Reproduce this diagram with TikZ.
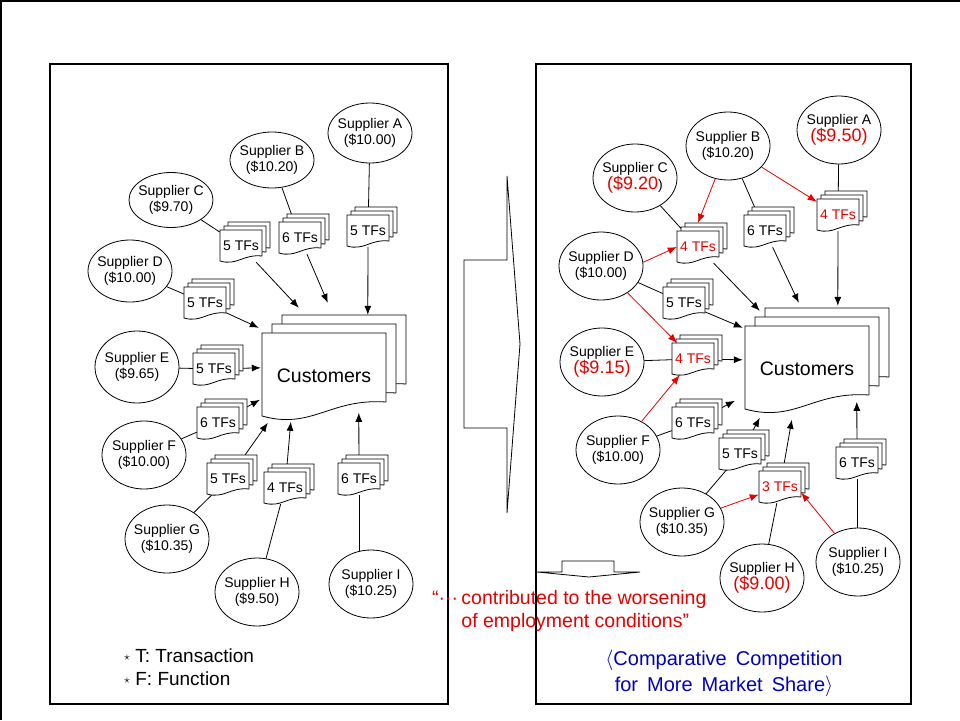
\documentclass[tikz,border=0pt]{standalone}
\usepackage{fontspec}
\setmainfont{Liberation Sans}
\usetikzlibrary{shapes.geometric,arrows.meta,backgrounds}

\definecolor{cutred}{RGB}{230,0,0}
\definecolor{capblue}{RGB}{0,0,190}

% stack of transaction forms: [text colour]{name}{x,y}{label}
\newcommand{\tfs}[4][black]{%
  \foreach \k in {2,1,0}
    \draw[doc,shift={(#3)},shift={(4*\k,-4*\k)}] (-21,-16) -- (21,-16) -- (21,10)
      .. controls (2,8) and (-4,20) .. (-21,15) -- cycle;
  \node[tfbox,text=#1] (#2) at (#3) {#4};
}
% stack of customer forms: {name}{x,y}
\newcommand{\custstack}[2]{%
  \foreach \k in {2,1,0}
    \draw[doc,shift={(#2)},shift={(10*\k,-9*\k)}] (-62,-43) -- (62,-43) -- (62,26)
      .. controls (6,22) and (-12,54) .. (-62,40) -- cycle;
  \node[custbox] (#1) at (#2) {Customers};
}
\newcommand{\bigprice}[1]{{\fontsize{18}{18}\selectfont #1}}
\newcommand{\smallstar}{\raisebox{2pt}{\fontsize{13}{13}\selectfont$\star$}}
\newcommand{\wide}{\hspace{0.45em}}

\begin{document}
\begin{tikzpicture}[x=1pt,y=-1pt,
  supp/.style={ellipse,draw,fill=white,line width=0.8pt,minimum width=84pt,minimum height=68pt,
    inner xsep=-4pt,inner ysep=0pt,align=center,font=\fontsize{14}{16}\selectfont},
  doc/.style={draw,fill=white,line width=0.8pt},
  tfbox/.style={minimum width=42pt,minimum height=32pt,inner sep=0pt,font=\fontsize{14}{16}\selectfont},
  custbox/.style={minimum width=124pt,minimum height=86pt,inner sep=0pt,font=\fontsize{19.5}{22}\selectfont},
  wire/.style={line width=0.8pt},
  feed/.style={wire,-{Latex[length=9pt,width=7pt]}},
  steal/.style={feed,draw=cutred},
  panel/.style={draw,line width=1.3pt},
  keytext/.style={inner sep=0pt,font=\fontsize{19}{22}\selectfont}]

\useasboundingbox (0,0) rectangle (960,720);
\draw[panel] (1,720) -- (1,1) -- (960,1);
\draw[panel] (50,64) rectangle (448,704);
\draw[panel] (536,64) rectangle (911,704);

% turn-over arrows
\draw[wire] (464,260) -- (507,260) -- (507,176) -- (520,344) -- (507,513) -- (507,428) -- (464,428) -- cycle;
\draw[wire] (562,561) -- (614,561) -- (614,572) -- (640,572) -- (589,577) -- (537,572) -- (562,572) -- cycle;

% before
\foreach \nm/\x/\y/\hgt/\ltr/\pr in {sA/370/133/60/A/10.00, sB/272/160/56/B/10.20, sC/171/200/55/C/9.70,
    sD/130/271/62/D/10.00, sE/137/367/72/E/9.65, sF/144/455/68/F/10.00,
    sG/167/539/68/G/10.35, sH/257/592/68/H/9.50, sI/371/584/68/I/10.25}
  \node[supp,minimum height=\hgt pt] (\nm) at (\x,\y) {Supplier \ltr\\(\$\pr)};

\foreach \nm/\x/\y/\num in {tA/368/231/5, tB/300/238/6, tC/241/246/5, tD/205/303/5, tE/214/369/5,
    tF/218/423/6, tG/228/479/5, tH/285/488/4, tI/359/479/6}
  \tfs{\nm}{\x,\y}{\num\ TFs};

\custstack{custL}{324,376}

% after
\foreach \nm/\x/\y/\ltr/\pr in {qA/839/130/A/\bigprice{\textcolor{cutred}{(\$9.50)}},
    qB/728/146/B/(\$10.20), qC/635/178/C/\bigprice{\textcolor{cutred}{(\$9.20}}),
    qD/601/266/D/(\$10.00), qE/602/362/E/\bigprice{\textcolor{cutred}{(\$9.15)}},
    qF/618/450/F/(\$10.00), qG/682/522/G/(\$10.35),
    qH/762/578/H/\bigprice{\textcolor{cutred}{(\$9.00)}}, qI/858/562/I/(\$10.25)}
  \node[supp] (\nm) at (\x,\y) {Supplier \ltr\\\pr};

\foreach \nm/\x/\y/\num/\col in {rA/838/215/4/cutred, rB/765/231/6/black, rC/698/247/4/cutred,
    rD/684/303/5/black, rE/693/359/4/cutred, rF/693/423/6/black, rG/740/454/5/black,
    rH/780/487/3/cutred, rI/857/463/6/black}
  \tfs[\col]{\nm}{\x,\y}{\num\ TFs};

\custstack{custR}{807,369}

\begin{scope}[on background layer]
  \foreach \src/\dst in {sA/tA,sB/tB,sC/tC,sD/tD,sE/tE,sF/tF,sG/tG,sH/tH}
    \draw[wire] (\src) -- (\dst);
  \draw[wire] (tI) -- (tI |- sI);
  \foreach \dst/\dx/\dy in {tA/106/-18, tB/66/-30, tC/37/-25, tD/-3/-5, tE/-1/35,
      tF/-2/67, tG/6/90, tH/29/89, tI/97/80}
    \draw[feed] (\dst) -- ([shift={(\dx,\dy)}]custL.north west);

  \foreach \src/\dst in {qA/rA,qB/rB,qC/rC,qD/rD,qE/rE,qF/rF,qG/rG,qH/rH}
    \draw[wire] (\src) -- (\dst);
  \draw[wire] (rI) -- (rI |- qI);
  \foreach \dst/\dx/\dy in {rA/93/-20, rB/54/-23, rC/15/-15, rD/-2/2, rE/-2/34,
      rF/-10/75, rG/15/92, rH/47/94, rI/112/76}
    \draw[feed] (\dst) -- ([shift={(\dx,\dy)}]custR.north west);
\end{scope}

% price cuts
\draw[steal] (qB) -- ([yshift=8pt]rC.north);
\draw[steal] (qB) -- (rA);
\draw[steal] (qD.5) -- (rC.west);
\draw[steal] (qD) -- (rE);
\draw[steal] (qF) -- (rE);
\draw[steal] (qG) -- (rH);
\draw[steal] (qI) -- (rH.-15);

\node[keytext,anchor=base west] (keyT) at (124,662) {\smallstar\ T: Transaction};
\node[keytext,anchor=base west] (keyF) at (124,685) {\smallstar\ F: Function};

\node[anchor=north west,inner sep=0pt,align=left,text=cutred,font=\fontsize{19.5}{23}\selectfont]
  (worse) at (432,590) {“···\,contributed to the worsening\\\phantom{“···\,}of employment conditions”};

\node[anchor=north,inner sep=0pt,align=center,text=capblue,font=\fontsize{20}{26}\selectfont]
  (capt) at (724,650) {$\langle$Comparative\wide Competition\\for\wide More\wide Market\wide Share$\rangle$};

\end{tikzpicture}
\end{document}
